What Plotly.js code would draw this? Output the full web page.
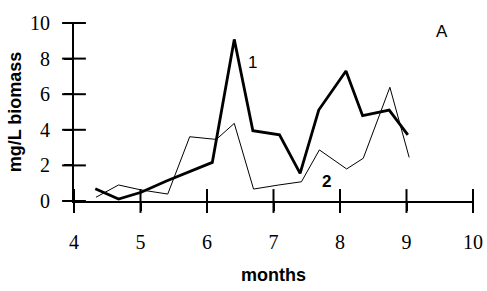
<!DOCTYPE html>
<html><head><meta charset="utf-8">
<script src="https://cdn.plot.ly/plotly-3.0.1.min.js"></script>
<style>html,body{margin:0;padding:0;background:#fff}#chart{width:487px;height:291px}</style>
</head><body><div id="chart"></div>
<script>
const months1 = [4.32, 4.67, 5.01, 5.39, 6.08, 6.41, 6.69, 7.09, 7.40, 7.68, 8.09, 8.34, 8.74, 9.02];
const biomass1 = [0.69, 0.11, 0.49, 1.12, 2.17, 9.08, 3.95, 3.72, 1.55, 5.11, 7.30, 4.79, 5.11, 3.71];
const months2 = [4.33, 4.67, 5.01, 5.41, 5.74, 6.14, 6.41, 6.70, 7.08, 7.42, 7.69, 8.10, 8.35, 8.75, 9.04];
const biomass2 = [0.21, 0.90, 0.62, 0.39, 3.61, 3.46, 4.36, 0.67, 0.90, 1.08, 2.87, 1.80, 2.40, 6.39, 2.45];
const xTicks = [4, 5, 6, 7, 8, 9, 10];
const yTicks = [0, 2, 4, 6, 8, 10];
const labels = [
  {text: '1', x: 6.69, y: 7.8, bold: false},
  {text: '2', x: 7.79, y: 1.12, bold: true},
  {text: 'A', x: 9.54, y: 9.5, bold: false}
];

const serif = 'Liberation Serif';
const sans = 'Liberation Sans';
const tickFont = {family: serif, size: 20, color: '#000'};
const traces = [
  {x: months2, y: biomass2, type: 'scatter', mode: 'lines', line: {color: '#000', width: 1}, hoverinfo: 'skip'},
  {x: months1, y: biomass1, type: 'scatter', mode: 'lines', line: {color: '#000', width: 2.8}, hoverinfo: 'skip'},
  {x: xTicks, y: xTicks.map(() => 0), type: 'scatter', mode: 'markers', cliponaxis: false, hoverinfo: 'skip',
   marker: {symbol: 'line-ns', size: 17, line: {color: '#000', width: 2}}},
  {x: yTicks.map(() => 4), y: yTicks, type: 'scatter', mode: 'markers', cliponaxis: false, hoverinfo: 'skip',
   marker: {symbol: 'line-ew', size: 17, line: {color: '#000', width: 2}}}
];
const baseAxis = {showgrid: false, zeroline: false, showline: true, linecolor: '#000', linewidth: 2, tickcolor: '#000', tickwidth: 2, ticklen: 8};
const layout = {
  width: 487, height: 291,
  font: {family: serif, size: 20, color: '#000'},
  margin: {l: 74, r: 14, t: 23, b: 90},
  paper_bgcolor: '#fff', plot_bgcolor: '#fff',
  showlegend: false,
  xaxis: Object.assign({}, baseAxis, {range: [4, 10], tickvals: xTicks, ticktext: xTicks.map(String), ticks: 'outside', tickfont: tickFont, ticklabelstandoff: 14,
    title: {text: '<b>months</b>', font: {family: sans, size: 18, color: '#000'}, standoff: 16}}),
  yaxis: Object.assign({}, baseAxis, {range: [0, 10], tickvals: yTicks, ticktext: yTicks.map(String), ticks: 'outside', tickfont: tickFont, ticklabelstandoff: 10,
    title: {text: '<b>mg/L biomass</b>', font: {family: sans, size: 18, color: '#000'}, standoff: 4}}),
  annotations: labels.map(l => ({x: l.x, y: l.y, xref: 'x', yref: 'y', text: l.bold ? '<b>' + l.text + '</b>' : l.text, showarrow: false,
    font: {family: sans, size: 17, color: '#000'}}))
};
Plotly.newPlot('chart', traces, layout, {staticPlot: true, displayModeBar: false});
</script></body></html>
